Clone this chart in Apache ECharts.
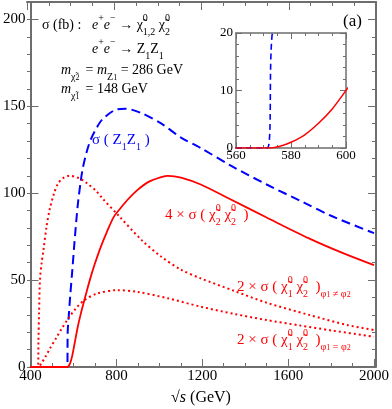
<!DOCTYPE html>
<html>
<head>
<meta charset="utf-8">
<script src="https://cdn.jsdelivr.net/npm/echarts@6/dist/echarts.min.js"></script>
<style>
  html, body { margin: 0; padding: 0; background: #fff; }
  #chart { width: 392px; height: 409px; }
</style>
</head>
<body>
<div id="chart"></div>
<script>
// sigma(Z1 Z1), fb
const zzEnergy = [400, 571.4, 573.2, 578, 585, 595, 605, 620, 633, 643, 660, 681, 710, 735, 796, 842, 918, 1010, 1101, 1193, 1331, 1500, 1667, 1800, 2000]
const zzSigma = [0, 0, 20, 29, 41, 56, 72, 93, 106, 114, 123, 131, 138, 142.5, 148, 148.6, 146, 140, 132, 126, 116, 105, 95, 87, 77]

// 4 x sigma(chi2 chi2)
const n22Energy = [400, 572.5, 576, 580, 585, 590, 595, 600, 610, 620, 635, 651, 665, 681, 700, 727, 755, 788, 820, 849, 895, 950, 1010, 1040, 1101, 1193, 1331, 1500, 1697, 1850, 2000]
const n22Sigma = [0, 0, 0.3, 1.0, 2.3, 4.3, 6.8, 10, 16.5, 23, 31, 38.5, 45, 52, 59.5, 69, 77.5, 86.4, 91.5, 95.8, 101.5, 106.5, 109.3, 110, 109, 105, 96.5, 86, 74, 65.8, 58.6]

// 2 x sigma(chi1 chi2), phi1 != phi2
const n12DiffEnergy = [400, 435, 437, 440, 444, 452, 460, 475, 490, 510, 528, 550, 582, 628, 660, 704, 735, 811, 918, 1010, 1101, 1193, 1344, 1500, 1697, 1881, 2000]
const n12DiffSigma = [0, 0, 15, 32, 50, 60, 67, 81, 91, 100, 105.5, 108.5, 110, 108.5, 106, 101.5, 97, 87, 73, 63.4, 56, 51, 44, 37, 30, 24, 21.3]

// 2 x sigma(chi1 chi2), phi1 = phi2
const n12SameEnergy = [400, 436, 450, 470, 490, 521, 545, 574, 610, 651, 712, 803, 895, 1040, 1193, 1350, 1500, 1650, 1803, 2000]
const n12SameSigma = [0, 0, 2, 6, 10.5, 17, 22, 27.5, 33.5, 38.5, 42.3, 44.2, 43.3, 39.5, 34.7, 30.5, 27, 24, 21, 17.4]

const serif = 'Liberation Serif, Times New Roman, serif'
const frame = '#6e6e6e'
const blue = '#0000ff'
const red = '#ff0000'

const mainRect = { left: 27, right: 16, top: 2, bottom: 42 }
const insetRect = { left: 236, top: 33, width: 110, height: 115 }

function pairs(xs, ys) {
  return xs.map((x, i) => [x, ys[i]])
}

function axis(gridIndex, position, min, max, interval, opts) {
  return Object.assign({
    type: 'value',
    gridIndex,
    position,
    min,
    max,
    interval,
    splitLine: { show: false },
    axisLine: { show: true, onZero: false, lineStyle: { color: frame, width: 2 } },
    axisTick: { show: true, inside: true, length: 8, lineStyle: { color: frame, width: 1 } },
    minorTick: { show: false },
    axisLabel: { show: false }
  }, opts)
}

const plain = v => String(v)
const mainLabel = { show: true, color: '#000', fontSize: 15, fontFamily: serif, formatter: plain }
const insetLabel = { show: true, color: '#000', fontSize: 13, fontFamily: serif, formatter: plain }

function rich(color, size) {
  const small = Math.round(size * 0.68)
  return {
    t: { fontSize: size, fontFamily: serif, fill: color, lineHeight: 24 },
    i: { fontSize: size, fontFamily: serif, fontStyle: 'italic', fill: color, lineHeight: 24 },
    sup: { fontSize: small, fontFamily: serif, fill: color, lineHeight: 10, verticalAlign: 'top' },
    supz: { fontSize: small, fontFamily: serif, fill: color, lineHeight: 10, verticalAlign: 'top', width: 0 },
    sub: { fontSize: small, fontFamily: serif, fill: color, lineHeight: 10, verticalAlign: 'bottom' },
    subs: { fontSize: small - 2, fontFamily: serif, fill: color, lineHeight: 6, verticalAlign: 'bottom' }
  }
}

function label(x, y, text, color, size) {
  return {
    type: 'text',
    x, y,
    style: { text, fill: color, align: 'left', verticalAlign: 'middle', rich: rich(color, size) }
  }
}

const chart = echarts.init(document.getElementById('chart'))

const lineBase = { type: 'line', showSymbol: false, smooth: 0.3, animation: false, clip: true }

chart.setOption({
  animation: false,
  grid: [
    Object.assign({}, mainRect),
    Object.assign({}, mainRect),
    Object.assign({}, mainRect),
    Object.assign({}, mainRect),
    Object.assign({}, insetRect),
    Object.assign({}, insetRect)
  ],
  xAxis: [
    axis(0, 'bottom', 400, 2000, 400, {
      minorTick: { show: true, splitNumber: 4, length: 4, lineStyle: { color: frame } },
      axisLabel: Object.assign({ margin: 2 }, mainLabel)
    }),
    axis(1, 'top', 400, 2000, 400, {
      minorTick: { show: true, splitNumber: 4, length: 4, lineStyle: { color: frame } }
    }),
    axis(2, 'bottom', 400, 2000, 400, { show: false }),
    axis(3, 'bottom', 400, 2000, 400, { show: false }),
    axis(4, 'bottom', 560, 600, 20, {
      axisLine: { show: true, onZero: false, lineStyle: { color: frame, width: 1.5 } },
      axisTick: { show: true, inside: true, length: 6, lineStyle: { color: frame } },
      minorTick: { show: true, splitNumber: 4, length: 3, lineStyle: { color: frame } },
      axisLabel: Object.assign({ margin: 1 }, insetLabel)
    }),
    axis(5, 'top', 560, 600, 20, {
      axisLine: { show: true, onZero: false, lineStyle: { color: frame, width: 1.5 } },
      axisTick: { show: true, inside: true, length: 6, lineStyle: { color: frame } },
      minorTick: { show: true, splitNumber: 4, length: 3, lineStyle: { color: frame } }
    })
  ],
  yAxis: [
    axis(0, 'left', 0, 210, 50, {
      axisLabel: Object.assign({ margin: 5, showMaxLabel: false }, mainLabel)
    }),
    axis(1, 'left', 0, 210, 10, {
      axisLine: { show: false },
      axisTick: { show: true, inside: true, length: 4, lineStyle: { color: frame } }
    }),
    axis(2, 'right', 0, 210, 50, {}),
    axis(3, 'right', 0, 210, 10, {
      axisLine: { show: false },
      axisTick: { show: true, inside: true, length: 4, lineStyle: { color: frame } }
    }),
    axis(4, 'left', 0, 20, 10, {
      axisLine: { show: true, onZero: false, lineStyle: { color: frame, width: 1.5 } },
      axisTick: { show: true, inside: true, length: 6, lineStyle: { color: frame } },
      minorTick: { show: true, splitNumber: 5, length: 3, lineStyle: { color: frame } },
      axisLabel: Object.assign({ margin: 3 }, insetLabel)
    }),
    axis(5, 'right', 0, 20, 10, {
      axisLine: { show: true, onZero: false, lineStyle: { color: frame, width: 1.5 } },
      axisTick: { show: true, inside: true, length: 6, lineStyle: { color: frame } },
      minorTick: { show: true, splitNumber: 5, length: 3, lineStyle: { color: frame } }
    })
  ],
  series: [
    Object.assign({}, lineBase, {
      name: 'Z1Z1', xAxisIndex: 0, yAxisIndex: 0, data: pairs(zzEnergy, zzSigma),
      lineStyle: { color: blue, width: 2, type: [9, 5] }
    }),
    Object.assign({}, lineBase, {
      name: 'chi2chi2', xAxisIndex: 0, yAxisIndex: 0, data: pairs(n22Energy, n22Sigma),
      lineStyle: { color: red, width: 1.8 }
    }),
    Object.assign({}, lineBase, {
      name: 'chi1chi2 diff', xAxisIndex: 0, yAxisIndex: 0, data: pairs(n12DiffEnergy, n12DiffSigma),
      lineStyle: { color: red, width: 2, type: [2, 3] }
    }),
    Object.assign({}, lineBase, {
      name: 'chi1chi2 same', xAxisIndex: 0, yAxisIndex: 0, data: pairs(n12SameEnergy, n12SameSigma),
      lineStyle: { color: red, width: 2, type: [2, 3] }
    }),
    // inset: zoom on the threshold
    Object.assign({}, lineBase, {
      name: 'Z1Z1 inset', xAxisIndex: 4, yAxisIndex: 4, data: pairs(zzEnergy, zzSigma),
      lineStyle: { color: blue, width: 1.6, type: [6, 4] }
    }),
    Object.assign({}, lineBase, {
      name: 'chi2chi2 inset', xAxisIndex: 4, yAxisIndex: 4, data: pairs(n22Energy, n22Sigma),
      lineStyle: { color: red, width: 1.5 }
    })
  ],
  graphic: [
    label(42, 25, '{t|σ (fb) :   }{i|e}{sup|+}{i|e}{sup|−}{t| → χ̃}{supz|0}{sub|1,2}{t| χ̃}{supz|0}{sub|2}', '#000', 14),
    label(92, 49, '{i|e}{sup|+}{i|e}{sup|−}{t| → Z}{sub|1}{t|Z}{sub|1}', '#000', 14),
    label(61, 70, '{i|m}{sub|χ̃}{subs|2}{sup| }{t| = }{i|m}{sub|Z}{subs|1}{t| = 286 GeV}', '#000', 14),
    label(61, 89, '{i|m}{sub|χ̃}{subs|1}{sup| }{t| = 148 GeV}', '#000', 14),
    label(343, 22, '{t|(a)}', '#000', 17),
    label(92, 140, '{t|σ ( Z}{sub|1}{t|Z}{sub|1}{t| )}', blue, 15),
    label(165, 215, '{t|4 × σ ( χ̃}{supz|0}{sub|2}{t| χ̃}{supz|0}{sub|2}{t|  )}', red, 15),
    label(237, 287, '{t|2 × σ ( χ̃}{supz|0}{sub|1}{t| χ̃}{supz|0}{sub|2}{t|  )}{sub|φ}{subs|1}{sub| ≠ φ}{subs|2}', red, 15),
    label(237, 340, '{t|2 × σ ( χ̃}{supz|0}{sub|1}{t| χ̃}{supz|0}{sub|2}{t|  )}{sub|φ}{subs|1}{sub| = φ}{subs|2}', red, 15),
    {
      type: 'text', x: 201, y: 398,
      style: {
        text: '{t|√}{i|s}{t| (GeV)}', align: 'center', verticalAlign: 'middle',
        rich: rich('#000', 16)
      }
    }
  ]
})
</script>
</body>
</html>
